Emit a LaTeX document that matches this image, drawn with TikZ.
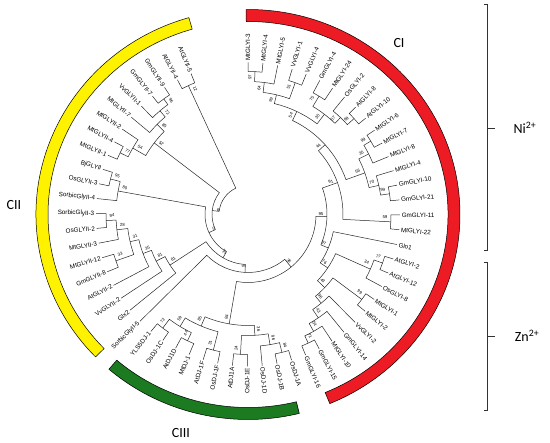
\documentclass[tikz,border=0pt]{standalone}
\usepackage{fontspec}
\setmainfont{Liberation Sans}
\newfontfamily\cladefont{Carlito}
\definecolor{cladered}{RGB}{237,28,36}
\definecolor{cladeyellow}{RGB}{255,242,0}
\definecolor{cladegreen}{RGB}{28,122,32}
\tikzset{
  branch/.style={line width=0.5pt, black!85},
  leaflab/.style={font=\fontsize{6.3}{7}\selectfont, inner sep=0.6pt},
  bootlab/.style={font=\fontsize{4.3}{5}\selectfont, inner sep=0pt},
  band/.style={draw=black, line width=0.5pt},
  cladename/.style={font=\cladefont\fontsize{14}{16}\selectfont},
  ionbrace/.style={line width=0.6pt, black!80},
}
% leaf: index, text (leaves are 5.633 deg apart, tips at r=152)
\newcommand{\leaf}[2]{%
  \pgfmathsetmacro{\leafA}{90-5.633*#1}%
  \ifdim\leafA pt<-90pt
    \node[leaflab, anchor=east, rotate=\leafA+180] (l#1) at (\leafA:153pt) {#2};%
  \else
    \node[leaflab, anchor=west, rotate=\leafA] (l#1) at (\leafA:153pt) {#2};%
  \fi}
% clade: name, radius, pos1, r1, pos2, r2, bootstrap
\newcommand{\clade}[7]{%
  \pgfmathsetmacro{\clA}{90-5.633*(#3)}%
  \pgfmathsetmacro{\clB}{90-5.633*(#5)}%
  \draw[branch] (\clA:#4pt) -- (\clA:#2pt) arc[start angle=\clA, end angle=\clB, radius=#2pt] -- (\clB:#6pt);%
  \pgfmathsetmacro{\clM}{(\clA+\clB)/2}%
  \pgfmathsetmacro{\clR}{#2-6}%
  \ifdim\clM pt<-90pt
    \node[bootlab, rotate=\clM+180] (#1) at (\clM-2:\clR pt) {#7};%
  \else
    \node[bootlab, rotate=\clM] (#1) at (\clM+2:\clR pt) {#7};%
  \fi}
% coloured band: colour, start, end
\newcommand{\colorband}[3]{%
  \filldraw[band, fill=#1] (#2:212pt and 205pt) arc[start angle=#2, end angle=#3, x radius=212pt, y radius=205pt]
    -- (#3:200pt and 193pt) arc[start angle=#3, end angle=#2, x radius=200pt, y radius=193pt] -- cycle;}

\begin{document}
\begin{tikzpicture}[x=1pt, y=1pt]
\useasboundingbox (0,0) rectangle (550,443);

\begin{scope}[shift={(248,228.5)}]
  % bands
  \colorband{cladered}{90.5}{-67.3}
  \colorband{cladeyellow}{106.2}{224}
  \colorband{cladegreen}{229}{284}

  % leaves
  \foreach \i/\t in {0/MtGLYI-3, 1/MtGLYI-4, 2/MtGLYI-5, 3/VvGLYI-1, 4/VvGLYI-4,
      5/GmGLYI-4, 6/MtGLYI-24, 7/OsGLYI-2, 8/AtGLYI-8, 9/AtGLYI-10,
      10/MtGLYI-6, 11/MtGLYI-7, 12/MtGLYI-8, 13/MtGLYI-4, 14/GmGLYI-10,
      15/GmGLYI-21, 16/GmGLYI-11, 17/MtGLYI-22, 18/Glo1, 19/AtGLYI-2,
      20/AtGLYI-12, 21/OsGLYI-8, 22/MtGLYI-1, 23/MtGLYI-2, 24/VvGLYI-2,
      25/GmGLYI-14, 26/MtGLYI-10, 27/GmGLYI-15, 28/GmGLYI-16, 29/OsDJ-1A,
      30/OsDJ-1B, 31/OsDJ-1D, 32/OsDJ-1E, 33/AtDJ1A, 34/OsDJ-1F,
      35/AtDJ-1F, 36/MtDJ-1, 37/AtDJ1D, 38/OsDJ-1C, 39/YLS5DJ-1,
      40/SorbicGlyII-5, 41/Glx2, 42/VvGLYII-2, 43/AtGLYII-2, 44/GmGLYII-8,
      45/MtGLYII-12, 46/MtGLYII-3, 47/OsGLYII-2, 48/SorbicGlyII-3, 49/SorbicGlyII-4,
      50/OsGLYII-3, 51/BjGLYII, 52/MtGLYII-1, 53/MtGLYII-4, 54/MtGLYII-2,
      55/MtGLYII-7, 56/VvGLYII-1, 57/GmGLYII-7, 58/GmGLYII-9, 59/AtGLYII-4,
      60/AtGLYII-5}
    {\leaf{\i}{\t}}

  % CI, Ni group
  \clade{a1}{143}{0}{152}{1}{152}{97}
  \clade{a2}{133}{0.5}{143}{2}{152}{64}
  \clade{a3}{140}{3}{152}{4}{152}{51}
  \clade{a4}{123}{1.25}{133}{3.5}{140}{99}
  \clade{a5}{138}{5}{152}{6}{152}{75}
  \clade{a6}{143}{8}{152}{9}{152}{99}
  \clade{a7}{134}{7}{152}{8.5}{143}{57}
  \clade{a8}{126}{5.5}{138}{7.75}{134}{30}
  \clade{a9}{114}{2.375}{123}{6.625}{126}{54}
  \clade{b1}{143}{10}{152}{11}{152}{99}
  \clade{b2}{135}{10.5}{143}{12}{152}{35}
  \clade{b3}{143}{14}{152}{15}{152}{99}
  \clade{b4}{134}{13}{152}{14.5}{143}{70}
  \clade{b5}{124}{11.25}{135}{13.75}{134}{56}
  \clade{c1}{104}{4.5}{114}{12.5}{124}{44}
  \clade{c2}{143}{16}{152}{17}{152}{59}
  \clade{c3}{95}{8.5}{104}{16.5}{143}{91}
  % CI, Zn group
  \clade{d1}{143}{19}{152}{20}{152}{77}
  \clade{d2}{134}{19.5}{143}{21}{152}{34}
  \clade{d3}{142}{22}{152}{23}{152}{99}
  \clade{d4}{142}{27}{152}{28}{152}{71}
  \clade{d5}{134}{26}{152}{27.5}{142}{54}
  \clade{d6}{125}{25}{152}{26.75}{134}{43}
  \clade{d7}{115}{24}{152}{25.875}{125}{96}
  \clade{d8}{106}{22.5}{142}{24.9375}{115}{43}
  \clade{d9}{96}{20.25}{134}{23.71875}{106}{76}
  \clade{d10}{87}{18}{152}{21.984}{96}{97}
  \clade{e1}{79}{12.5}{95}{19.992}{87}{95}
  % CIII
  \clade{f1}{142}{29}{152}{30}{152}{84}
  \clade{f2}{132}{29.5}{142}{31}{152}{86}
  \clade{f3}{140}{32}{152}{33}{152}{24}
  \clade{f4}{121}{30.25}{132}{32.5}{140}{36}
  \clade{f5}{140}{34}{152}{35}{152}{31}
  \clade{f6}{140}{36}{152}{37}{152}{44}
  \clade{f7}{142}{38}{152}{39}{152}{72}
  \clade{f8}{131}{36.5}{140}{38.5}{142}{59}
  \clade{f9}{121}{34.5}{140}{37.5}{131}{85}
  \clade{f10}{111}{31.375}{121}{36}{121}{84}
  % CII
  \clade{h1}{140}{44}{152}{45}{152}{33}
  \clade{h2}{142}{47}{152}{48}{152}{94}
  \clade{h3}{132}{46}{152}{47.5}{142}{28}
  \clade{h4}{121}{44.5}{140}{46.75}{132}{31}
  \clade{h5}{112}{43}{152}{45.625}{121}{35}
  \clade{h6}{103}{42}{152}{44.3125}{112}{81}
  \clade{h7}{93}{41}{152}{43.156}{103}{81}
  \clade{h8}{142}{50}{152}{51}{152}{95}
  \clade{h9}{132}{49}{152}{50.5}{142}{80}
  \clade{k1}{142}{52}{152}{53}{152}{77}
  \clade{k2}{133}{52.5}{142}{54}{152}{54}
  \clade{k3}{143}{57}{152}{58}{152}{96}
  \clade{k4}{136}{56}{152}{57.5}{143}{72}
  \clade{k5}{128}{55}{152}{56.75}{136}{85}
  \clade{k6}{118}{53.25}{133}{55.875}{128}{52}
  \clade{k7}{142}{59}{152}{60}{152}{12}
  % backbone
  \clade{j36}{68}{16.246}{79}{33.6875}{111}{36}
  \clade{j9}{58}{24.967}{68}{40}{152}{9}
  \clade{j37}{50}{32.483}{58}{42.078}{93}{37}
  \clade{j0}{43}{37.281}{50}{49.75}{132}{0}
  \clade{j6}{36}{43.515}{43}{54.5625}{118}{6}
  \clade{root}{29}{49.039}{36}{59.5}{142}{}
\end{scope}

% clade names
\node[cladename] (ci) at (399,400) {CI};
\node[cladename] (cii) at (14,238) {CII};
\node[cladename] (ciii) at (181,10) {CIII};

% metal brackets
\coordinate (nitop) at (487.5,439);
\coordinate (nibot) at (487.5,193);
\coordinate (zntop) at (487.5,181);
\coordinate (znbot) at (487.5,33);
\draw[ionbrace] ([xshift=-4pt]nitop) -- (nitop) -- (nibot) -- ([xshift=-4pt]nibot);
\draw[ionbrace] (487.5,315) -- (495,315);
\draw[ionbrace] ([xshift=-4pt]zntop) -- (zntop) -- (znbot) -- ([xshift=-4pt]znbot);
\draw[ionbrace] (487.5,107) -- (495,107);
\node[cladename] (ni) at (525,315) {Ni\textsuperscript{2+}};
\node[cladename] (zn) at (527,107) {Zn\textsuperscript{2+}};
\end{tikzpicture}
\end{document}
